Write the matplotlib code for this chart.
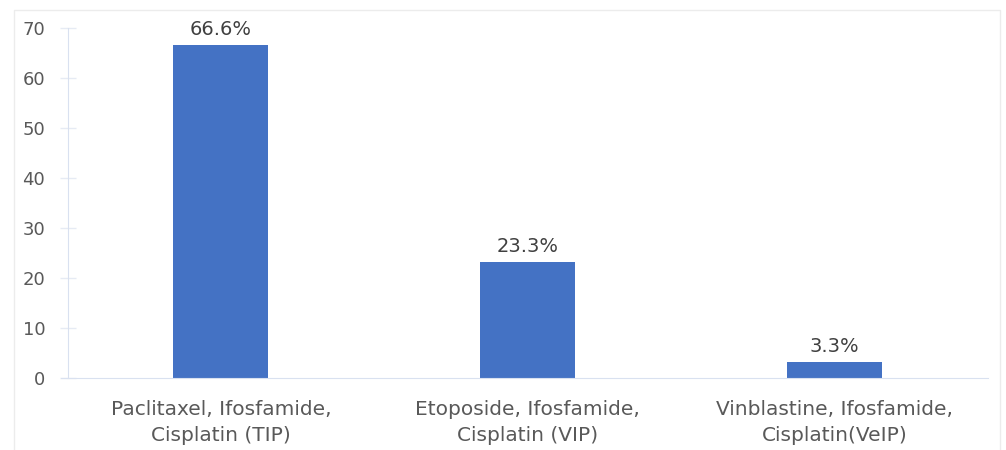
import matplotlib.pyplot as plt
from matplotlib.patches import Rectangle

# regimen names and share of patients (%)
regimens = ["Paclitaxel, Ifosfamide,\nCisplatin (TIP)",
            "Etoposide, Ifosfamide,\nCisplatin (VIP)",
            "Vinblastine, Ifosfamide,\nCisplatin(VeIP)"]
values = [66.6, 23.3, 3.3]
labels = ["66.6%", "23.3%", "3.3%"]
yticks = [0, 10, 20, 30, 40, 50, 60, 70]

text_col = "#595959"
axis_col = "#d9e1f0"

fig = plt.figure(figsize=(10.06, 4.5), dpi=100)
ax = fig.add_axes([67.5 / 1006, 1 - 378 / 450, (988 - 67.5) / 1006, 350 / 450])

x = range(len(values))
bars = ax.bar(x, values, width=0.31, color="#4472c4", zorder=2)
for b, lab in zip(bars, labels):
    ax.annotate(lab, (b.get_x() + b.get_width() / 2, b.get_height()),
                xytext=(0, 4), textcoords="offset points",
                ha="center", va="bottom", fontsize=14, color="#404040")

ax.set_xlim(-0.5, 2.5)
ax.set_ylim(0, 70)
ax.set_yticks(yticks)
ax.set_xticks(list(x))
ax.set_xticklabels(regimens, fontsize=14.5, color=text_col, linespacing=1.45)
ax.tick_params(axis="y", labelsize=13, labelcolor=text_col, color="#e6ebf4",
               direction="inout", length=12, width=1, pad=10)
ax.tick_params(axis="x", length=0, pad=16)

for s in ["top", "right"]:
    ax.spines[s].set_visible(False)
ax.spines["left"].set_color(axis_col)
ax.spines["bottom"].set_color(axis_col)
ax.spines["bottom"].set_bounds(-0.52, 2.5)

# faint frame around the chart area
fig.patches.append(Rectangle((14 / 1006, -0.1), (1000 - 14) / 1006, 1 - 10 / 450 + 0.1,
                             transform=fig.transFigure, fill=False,
                             edgecolor="#ececec", linewidth=1))

fig.savefig("out.png", dpi=100)
